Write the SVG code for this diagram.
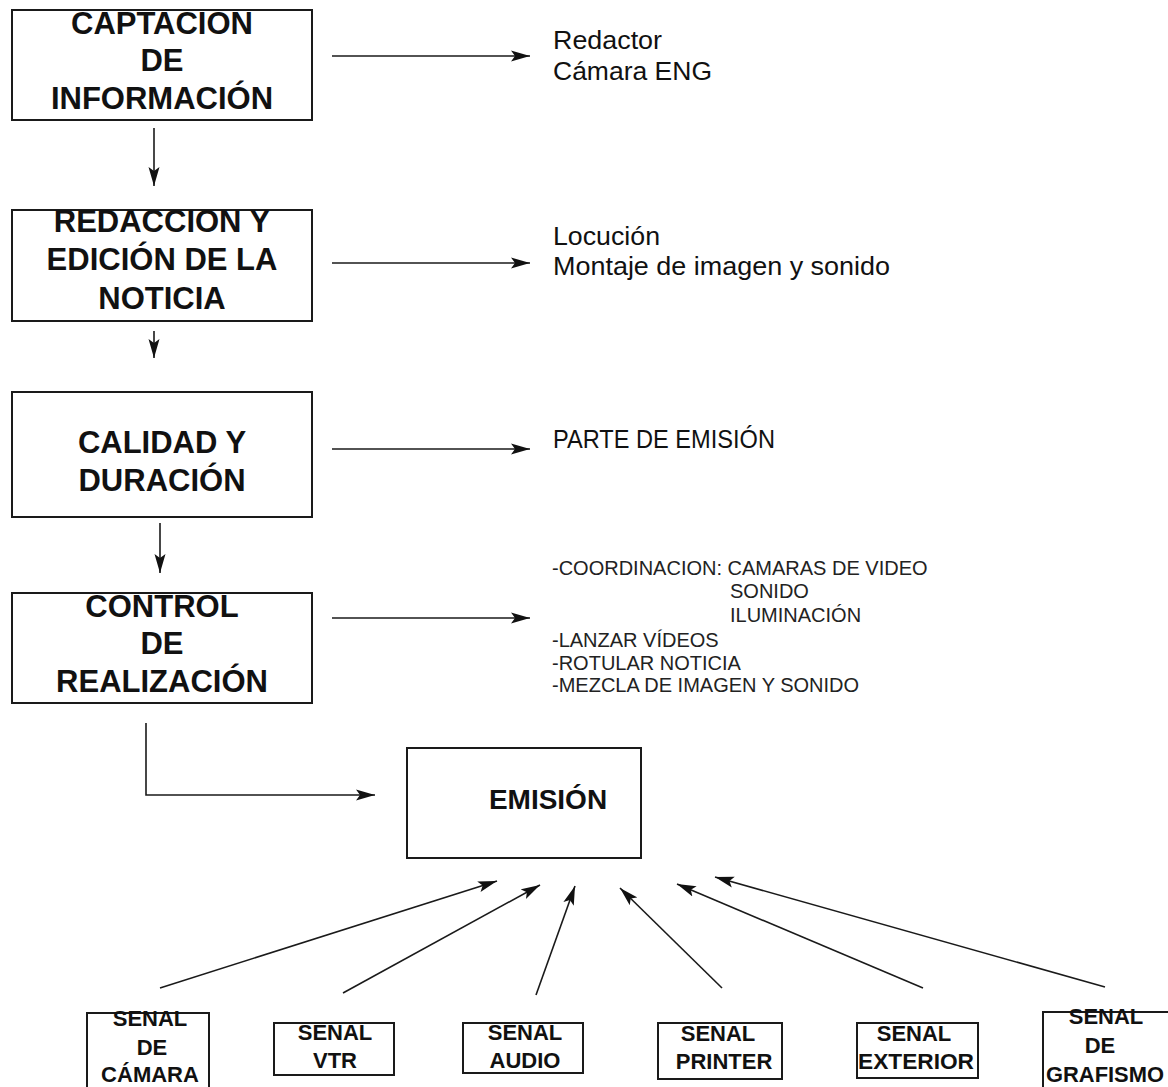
<svg xmlns="http://www.w3.org/2000/svg" width="1168" height="1087" viewBox="0 0 1168 1087">
<style>
.box{fill:#fff;stroke:#1a1a1a;stroke-width:2}
.big{font-family:"Liberation Sans",Arial,sans-serif;font-weight:bold;font-size:31px;fill:#111;text-anchor:middle}
.emi{font-family:"Liberation Sans",Arial,sans-serif;font-weight:bold;font-size:28px;fill:#111;text-anchor:middle}
.sm{font-family:"Liberation Sans",Arial,sans-serif;font-weight:bold;font-size:22px;fill:#111;text-anchor:middle}
.reg{font-family:"Liberation Sans",Arial,sans-serif;font-size:25px;fill:#111}
.thin{font-family:"Liberation Sans",Arial,sans-serif;font-size:20px;fill:#222}
.con{fill:none;stroke:#1a1a1a;stroke-width:1.6;marker-end:url(#ah)}
</style>
<defs>
<marker id="ah" markerUnits="userSpaceOnUse" markerWidth="20" markerHeight="12" refX="19" refY="6" orient="auto">
<path d="M0,0.5 L19,6 L0,11.5 L4,6 z" fill="#111"/>
</marker>
</defs>
<rect width="1168" height="1087" fill="#fff"/>

<g id="captacion">
<rect class="box" x="12" y="10" width="300" height="110"/>
<text class="big" x="162" y="34">CAPTACION</text>
<text class="big" x="162" y="71">DE</text>
<text class="big" x="162" y="109">INFORMACIÓN</text>
</g>
<g id="redaccion">
<rect class="box" x="12" y="210" width="300" height="111"/>
<text class="big" x="162" y="232">REDACCION Y</text>
<text class="big" x="162" y="270">EDICIÓN DE LA</text>
<text class="big" x="162" y="309">NOTICIA</text>
</g>
<g id="calidad">
<rect class="box" x="12" y="392" width="300" height="125"/>
<text class="big" x="162" y="453">CALIDAD Y</text>
<text class="big" x="162" y="491">DURACIÓN</text>
</g>
<g id="control">
<rect class="box" x="12" y="593" width="300" height="110"/>
<text class="big" x="162" y="617">CONTROL</text>
<text class="big" x="162" y="654">DE</text>
<text class="big" x="162" y="692">REALIZACIÓN</text>
</g>

<g id="label-captacion">
<text class="reg" x="553" y="49" textLength="109" lengthAdjust="spacingAndGlyphs">Redactor</text>
<text class="reg" x="553" y="80" textLength="159" lengthAdjust="spacingAndGlyphs">Cámara ENG</text>
</g>
<g id="label-redaccion">
<text class="reg" x="553" y="245" textLength="107" lengthAdjust="spacingAndGlyphs">Locución</text>
<text class="reg" x="553" y="275" textLength="337" lengthAdjust="spacingAndGlyphs">Montaje de imagen y sonido</text>
</g>
<g id="label-calidad">
<text class="reg" x="553" y="448" textLength="222" lengthAdjust="spacingAndGlyphs">PARTE DE EMISIÓN</text>
</g>
<g id="label-control">
<text class="thin" x="552" y="575">-COORDINACION: CAMARAS DE VIDEO</text>
<text class="thin" x="730" y="598">SONIDO</text>
<text class="thin" x="730" y="622">ILUMINACIÓN</text>
<text class="thin" x="552" y="647">-LANZAR VÍDEOS</text>
<text class="thin" x="552" y="670">-ROTULAR NOTICIA</text>
<text class="thin" x="552" y="692">-MEZCLA DE IMAGEN Y SONIDO</text>
</g>

<g id="emision">
<rect class="box" x="407" y="748" width="234" height="110"/>
<text class="emi" x="548" y="809">EMISIÓN</text>
</g>

<g id="senal-camara">
<rect class="box" x="87" y="1013" width="122" height="90"/>
<text class="sm" x="150" y="1026">SENAL</text>
<text class="sm" x="152" y="1055">DE</text>
<text class="sm" x="150" y="1082">CÁMARA</text>
</g>
<g id="senal-vtr">
<rect class="box" x="274" y="1023" width="120" height="52"/>
<text class="sm" x="335" y="1040">SENAL</text>
<text class="sm" x="335" y="1068">VTR</text>
</g>
<g id="senal-audio">
<rect class="box" x="463" y="1023" width="120" height="50"/>
<text class="sm" x="525" y="1040">SENAL</text>
<text class="sm" x="525" y="1068">AUDIO</text>
</g>
<g id="senal-printer">
<rect class="box" x="658" y="1023" width="124" height="56"/>
<text class="sm" x="718" y="1041">SENAL</text>
<text class="sm" x="724" y="1069">PRINTER</text>
</g>
<g id="senal-exterior">
<rect class="box" x="857" y="1023" width="121" height="55"/>
<text class="sm" x="914" y="1041">SENAL</text>
<text class="sm" x="916" y="1069" textLength="116" lengthAdjust="spacingAndGlyphs">EXTERIOR</text>
</g>
<g id="senal-grafismo">
<rect class="box" x="1043" y="1012" width="140" height="90"/>
<text class="sm" x="1106" y="1024">SENAL</text>
<text class="sm" x="1100" y="1053">DE</text>
<text class="sm" x="1046" y="1082" style="text-anchor:start" textLength="118" lengthAdjust="spacingAndGlyphs">GRAFISMO</text>
</g>

<g id="connectors">
<line class="con" x1="154" y1="128" x2="154" y2="186"/>
<line class="con" x1="154" y1="331" x2="154" y2="358"/>
<line class="con" x1="160" y1="523" x2="160" y2="573"/>
<line class="con" x1="332" y1="56" x2="530" y2="56"/>
<line class="con" x1="332" y1="263" x2="530" y2="263"/>
<line class="con" x1="332" y1="449" x2="530" y2="449"/>
<line class="con" x1="332" y1="618" x2="530" y2="618"/>
<polyline class="con" points="146,723 146,795 375,795"/>
<line class="con" x1="160" y1="988" x2="497" y2="881"/>
<line class="con" x1="343" y1="993" x2="540" y2="885"/>
<line class="con" x1="536" y1="995" x2="575" y2="886"/>
<line class="con" x1="722" y1="988" x2="620" y2="888"/>
<line class="con" x1="923" y1="988" x2="677" y2="884"/>
<line class="con" x1="1105" y1="987" x2="715" y2="877"/>
</g>
</svg>
